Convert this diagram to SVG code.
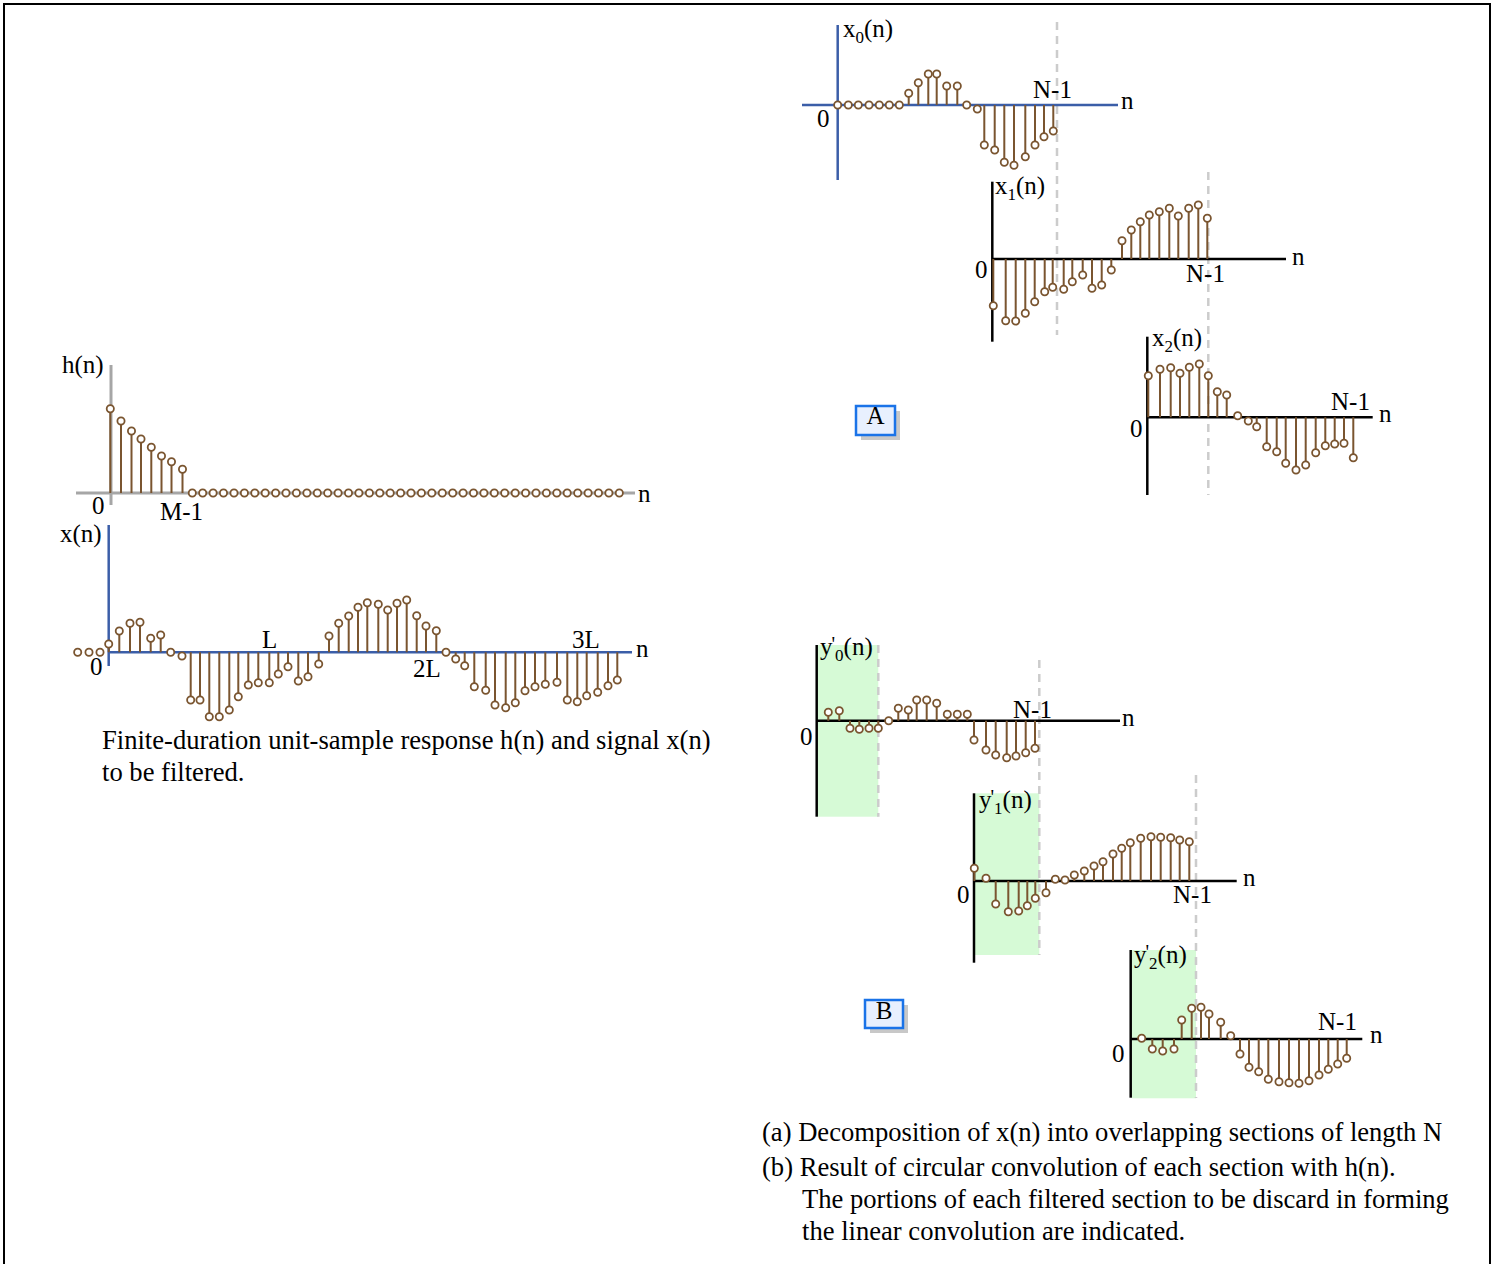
<svg xmlns="http://www.w3.org/2000/svg" xmlns:xlink="http://www.w3.org/1999/xlink" width="1497" height="1264" viewBox="0 0 1497 1264">
<style>
text{font-family:"Liberation Serif","Times New Roman",serif;fill:#000}
.lbl{font-size:25px}
.cap{font-size:26.6px}
.stem{stroke:#7a5530;stroke-width:2;fill:none}
.axg{stroke:#a6a6a6;stroke-width:3}
.axb{stroke:#3b5ea8;stroke-width:2.5}
.axk{stroke:#000;stroke-width:2.5}
.dash{stroke:#cccccc;stroke-width:2.5;stroke-dasharray:8 6}
.shade{fill:#d6fad6}
.box{fill:#e8f0fe;stroke:#1a73e8;stroke-width:2.5}
.shadow{fill:#c8c8c8}
.pr{font-size:20px}
.sb{font-size:17px}
</style>
<defs>
<circle id="o" r="3.6" fill="#fff" stroke="#7a5530" stroke-width="1.8"/>
</defs>
<rect x="4" y="4" width="1486" height="1270" fill="#fff" stroke="#000" stroke-width="2"/>

<g id="connectors"/>

<g id="plot-h">
<line class="axg" x1="111" y1="365" x2="111" y2="505"/>
<line class="axg" x1="76" y1="493" x2="635" y2="493"/>
<path class="stem" d="M110.3 493V408.7M121 493V421M131.5 493V431M141 493V439M151.3 493V447.3M161.5 493V456M171.5 493V461.7M182.5 493V469.3"/>
<g>
<use xlink:href="#o" x="110.3" y="408.7"/><use xlink:href="#o" x="121" y="421"/><use xlink:href="#o" x="131.5" y="431"/><use xlink:href="#o" x="141" y="439"/><use xlink:href="#o" x="151.3" y="447.3"/><use xlink:href="#o" x="161.5" y="456"/><use xlink:href="#o" x="171.5" y="461.7"/><use xlink:href="#o" x="182.5" y="469.3"/>
<use xlink:href="#o" x="192.3" y="493"/><use xlink:href="#o" x="202.7" y="493"/><use xlink:href="#o" x="213.1" y="493"/><use xlink:href="#o" x="223.5" y="493"/><use xlink:href="#o" x="234" y="493"/><use xlink:href="#o" x="244.4" y="493"/><use xlink:href="#o" x="254.8" y="493"/><use xlink:href="#o" x="265.2" y="493"/><use xlink:href="#o" x="275.6" y="493"/><use xlink:href="#o" x="286" y="493"/><use xlink:href="#o" x="296.4" y="493"/><use xlink:href="#o" x="306.9" y="493"/><use xlink:href="#o" x="317.3" y="493"/><use xlink:href="#o" x="327.7" y="493"/><use xlink:href="#o" x="338.1" y="493"/><use xlink:href="#o" x="348.5" y="493"/><use xlink:href="#o" x="358.9" y="493"/><use xlink:href="#o" x="369.4" y="493"/><use xlink:href="#o" x="379.8" y="493"/><use xlink:href="#o" x="390.2" y="493"/><use xlink:href="#o" x="400.6" y="493"/><use xlink:href="#o" x="411" y="493"/><use xlink:href="#o" x="421.4" y="493"/><use xlink:href="#o" x="431.8" y="493"/><use xlink:href="#o" x="442.3" y="493"/><use xlink:href="#o" x="452.7" y="493"/><use xlink:href="#o" x="463.1" y="493"/><use xlink:href="#o" x="473.5" y="493"/><use xlink:href="#o" x="483.9" y="493"/><use xlink:href="#o" x="494.3" y="493"/><use xlink:href="#o" x="504.7" y="493"/><use xlink:href="#o" x="515.2" y="493"/><use xlink:href="#o" x="525.6" y="493"/><use xlink:href="#o" x="536" y="493"/><use xlink:href="#o" x="546.4" y="493"/><use xlink:href="#o" x="556.8" y="493"/><use xlink:href="#o" x="567.2" y="493"/><use xlink:href="#o" x="577.7" y="493"/><use xlink:href="#o" x="588.1" y="493"/><use xlink:href="#o" x="598.5" y="493"/><use xlink:href="#o" x="608.9" y="493"/><use xlink:href="#o" x="619.3" y="493"/>
</g>
<text class="lbl" x="62" y="373">h(n)</text>
<text class="lbl" x="92" y="514">0</text>
<text class="lbl" x="160" y="520">M-1</text>
<text class="lbl" x="638" y="502">n</text>
</g>

<g id="plot-x">
<line class="axb" x1="108.7" y1="525" x2="108.7" y2="666"/>
<line class="axb" x1="108" y1="652.3" x2="632" y2="652.3"/>
<path class="stem" d="M108.7 652.3V644M119.3 652.3V631M130 652.3V623.3M140 652.3V622.3M150.7 652.3V638.3M160.7 652.3V635M182 652.3V656M190.7 652.3V700M200 652.3V700M209.3 652.3V716.7M219.3 652.3V716.7M229.3 652.3V710M238.3 652.3V696.7M248.3 652.3V685M258.3 652.3V682.7M269.3 652.3V682.7M278.3 652.3V674M288 652.3V666.7M298.3 652.3V681M308 652.3V676.7M318.7 652.3V664M329 652.3V636M338.7 652.3V623.3M348.7 652.3V616M358 652.3V607.3M367.3 652.3V602.7M378.3 652.3V604.3M387.7 652.3V610M397 652.3V603.3M406.7 652.3V600M416.7 652.3V615.7M426 652.3V626M436.3 652.3V630.7M455.7 652.3V659M464.7 652.3V665.7M474.3 652.3V686.7M485.7 652.3V690.3M495 652.3V705M505.7 652.3V707.7M515.3 652.3V702.7M525 652.3V690.7M535 652.3V686.7M545.3 652.3V684.3M557 652.3V682.3M567.3 652.3V700M577.3 652.3V701.7M586.7 652.3V695.7M597.7 652.3V692.3M608 652.3V685.7M617.3 652.3V680"/>
<g>
<use xlink:href="#o" x="77.7" y="652.3"/><use xlink:href="#o" x="89" y="652.3"/><use xlink:href="#o" x="100" y="652.3"/><use xlink:href="#o" x="108.7" y="644"/><use xlink:href="#o" x="119.3" y="631"/><use xlink:href="#o" x="130" y="623.3"/><use xlink:href="#o" x="140" y="622.3"/><use xlink:href="#o" x="150.7" y="638.3"/><use xlink:href="#o" x="160.7" y="635"/><use xlink:href="#o" x="170.7" y="652.3"/><use xlink:href="#o" x="182" y="656"/><use xlink:href="#o" x="190.7" y="700"/><use xlink:href="#o" x="200" y="700"/><use xlink:href="#o" x="209.3" y="716.7"/><use xlink:href="#o" x="219.3" y="716.7"/><use xlink:href="#o" x="229.3" y="710"/><use xlink:href="#o" x="238.3" y="696.7"/><use xlink:href="#o" x="248.3" y="685"/><use xlink:href="#o" x="258.3" y="682.7"/><use xlink:href="#o" x="269.3" y="682.7"/><use xlink:href="#o" x="278.3" y="674"/><use xlink:href="#o" x="288" y="666.7"/><use xlink:href="#o" x="298.3" y="681"/><use xlink:href="#o" x="308" y="676.7"/><use xlink:href="#o" x="318.7" y="664"/><use xlink:href="#o" x="329" y="636"/><use xlink:href="#o" x="338.7" y="623.3"/><use xlink:href="#o" x="348.7" y="616"/><use xlink:href="#o" x="358" y="607.3"/><use xlink:href="#o" x="367.3" y="602.7"/><use xlink:href="#o" x="378.3" y="604.3"/><use xlink:href="#o" x="387.7" y="610"/><use xlink:href="#o" x="397" y="603.3"/><use xlink:href="#o" x="406.7" y="600"/><use xlink:href="#o" x="416.7" y="615.7"/><use xlink:href="#o" x="426" y="626"/><use xlink:href="#o" x="436.3" y="630.7"/><use xlink:href="#o" x="446" y="652.3"/><use xlink:href="#o" x="455.7" y="659"/><use xlink:href="#o" x="464.7" y="665.7"/><use xlink:href="#o" x="474.3" y="686.7"/><use xlink:href="#o" x="485.7" y="690.3"/><use xlink:href="#o" x="495" y="705"/><use xlink:href="#o" x="505.7" y="707.7"/><use xlink:href="#o" x="515.3" y="702.7"/><use xlink:href="#o" x="525" y="690.7"/><use xlink:href="#o" x="535" y="686.7"/><use xlink:href="#o" x="545.3" y="684.3"/><use xlink:href="#o" x="557" y="682.3"/><use xlink:href="#o" x="567.3" y="700"/><use xlink:href="#o" x="577.3" y="701.7"/><use xlink:href="#o" x="586.7" y="695.7"/><use xlink:href="#o" x="597.7" y="692.3"/><use xlink:href="#o" x="608" y="685.7"/><use xlink:href="#o" x="617.3" y="680"/>
</g>
<text class="lbl" x="60" y="542">x(n)</text>
<text class="lbl" x="90" y="675">0</text>
<text class="lbl" x="262" y="648">L</text>
<text class="lbl" x="413" y="677">2L</text>
<text class="lbl" x="572" y="648">3L</text>
<text class="lbl" x="636" y="657">n</text>
</g>

<g id="caption-left">
<text class="cap" x="102" y="749">Finite-duration unit-sample response h(n) and signal x(n)</text>
<text class="cap" x="102" y="781">to be filtered.</text>
</g>

<g id="dashes-a">
<line class="dash" x1="1057" y1="22" x2="1057" y2="335"/>
<line class="dash" x1="1208.3" y1="172" x2="1208.3" y2="495"/>
</g>

<g id="plot-x0">
<line class="axb" x1="837.7" y1="25" x2="837.7" y2="180"/>
<line class="axb" x1="802" y1="105" x2="1118" y2="105"/>
<path class="stem" d="M908.7 105V93.3M918.3 105V82.7M928.3 105V74M936.7 105V74M946.7 105V86M957.3 105V86M977.3 105V109M984.3 105V145M994.7 105V150M1004.3 105V162.3M1014 105V165.3M1025.3 105V156.7M1035 105V145M1044 105V136.7M1053.3 105V131"/>
<g>
<use xlink:href="#o" x="837.7" y="105"/><use xlink:href="#o" x="848.3" y="105"/><use xlink:href="#o" x="858.3" y="105"/><use xlink:href="#o" x="869" y="105"/><use xlink:href="#o" x="879.3" y="105"/><use xlink:href="#o" x="889.3" y="105"/><use xlink:href="#o" x="899.3" y="105"/><use xlink:href="#o" x="908.7" y="93.3"/><use xlink:href="#o" x="918.3" y="82.7"/><use xlink:href="#o" x="928.3" y="74"/><use xlink:href="#o" x="936.7" y="74"/><use xlink:href="#o" x="946.7" y="86"/><use xlink:href="#o" x="957.3" y="86"/><use xlink:href="#o" x="966.7" y="105"/><use xlink:href="#o" x="977.3" y="109"/><use xlink:href="#o" x="984.3" y="145"/><use xlink:href="#o" x="994.7" y="150"/><use xlink:href="#o" x="1004.3" y="162.3"/><use xlink:href="#o" x="1014" y="165.3"/><use xlink:href="#o" x="1025.3" y="156.7"/><use xlink:href="#o" x="1035" y="145"/><use xlink:href="#o" x="1044" y="136.7"/><use xlink:href="#o" x="1053.3" y="131"/>
</g>
<text class="lbl" x="843" y="37">x<tspan class="sb" dy="6">0</tspan><tspan dy="-6">(n)</tspan></text>
<text class="lbl" x="817" y="127">0</text>
<text class="lbl" x="1033" y="98">N-1</text>
<text class="lbl" x="1121" y="109">n</text>
</g>

<g id="plot-x1">
<line class="axk" x1="992.3" y1="181.7" x2="992.3" y2="341.7"/>
<line class="axk" x1="992.3" y1="259" x2="1286" y2="259"/>
<path class="stem" d="M993.3 259V305.7M1005.7 259V320.7M1015.7 259V321M1025.3 259V313.3M1034.7 259V301.7M1044.7 259V291.7M1052.7 259V287.3M1063.7 259V289.3M1072.3 259V281.7M1082.7 259V275M1092 259V288.3M1101.7 259V285M1111.3 259V270M1122 259V240.7M1131.3 259V230M1140.3 259V221.7M1149.3 259V215M1159.3 259V211.7M1169.3 259V208.3M1178.3 259V216M1188.7 259V208.3M1198.3 259V205M1207.3 259V218.3"/>
<g>
<use xlink:href="#o" x="993.3" y="305.7"/><use xlink:href="#o" x="1005.7" y="320.7"/><use xlink:href="#o" x="1015.7" y="321"/><use xlink:href="#o" x="1025.3" y="313.3"/><use xlink:href="#o" x="1034.7" y="301.7"/><use xlink:href="#o" x="1044.7" y="291.7"/><use xlink:href="#o" x="1052.7" y="287.3"/><use xlink:href="#o" x="1063.7" y="289.3"/><use xlink:href="#o" x="1072.3" y="281.7"/><use xlink:href="#o" x="1082.7" y="275"/><use xlink:href="#o" x="1092" y="288.3"/><use xlink:href="#o" x="1101.7" y="285"/><use xlink:href="#o" x="1111.3" y="270"/><use xlink:href="#o" x="1122" y="240.7"/><use xlink:href="#o" x="1131.3" y="230"/><use xlink:href="#o" x="1140.3" y="221.7"/><use xlink:href="#o" x="1149.3" y="215"/><use xlink:href="#o" x="1159.3" y="211.7"/><use xlink:href="#o" x="1169.3" y="208.3"/><use xlink:href="#o" x="1178.3" y="216"/><use xlink:href="#o" x="1188.7" y="208.3"/><use xlink:href="#o" x="1198.3" y="205"/><use xlink:href="#o" x="1207.3" y="218.3"/>
</g>
<text class="lbl" x="995" y="194">x<tspan class="sb" dy="6">1</tspan><tspan dy="-6">(n)</tspan></text>
<text class="lbl" x="975" y="278">0</text>
<text class="lbl" x="1186" y="282">N-1</text>
<text class="lbl" x="1292" y="265">n</text>
</g>

<g id="plot-x2">
<line class="axk" x1="1147.3" y1="336.7" x2="1147.3" y2="495"/>
<line class="axk" x1="1147.3" y1="417.3" x2="1372.7" y2="417.3"/>
<path class="stem" d="M1148.3 417.3V375.7M1160 417.3V369.3M1170.7 417.3V367.7M1180 417.3V373.3M1189.3 417.3V367.3M1199.3 417.3V364M1208.3 417.3V375.7M1217.3 417.3V391.7M1226.7 417.3V395M1237.7 417.3V415.7M1248.3 417.3V421M1256.7 417.3V426.7M1266.7 417.3V446.7M1276.7 417.3V451.7M1285.7 417.3V463.3M1296 417.3V470M1305.7 417.3V465M1315.7 417.3V452.7M1325.3 417.3V445.7M1334.7 417.3V444M1344 417.3V443.3M1353.3 417.3V457.7"/>
<g>
<use xlink:href="#o" x="1148.3" y="375.7"/><use xlink:href="#o" x="1160" y="369.3"/><use xlink:href="#o" x="1170.7" y="367.7"/><use xlink:href="#o" x="1180" y="373.3"/><use xlink:href="#o" x="1189.3" y="367.3"/><use xlink:href="#o" x="1199.3" y="364"/><use xlink:href="#o" x="1208.3" y="375.7"/><use xlink:href="#o" x="1217.3" y="391.7"/><use xlink:href="#o" x="1226.7" y="395"/><use xlink:href="#o" x="1237.7" y="415.7"/><use xlink:href="#o" x="1248.3" y="421"/><use xlink:href="#o" x="1256.7" y="426.7"/><use xlink:href="#o" x="1266.7" y="446.7"/><use xlink:href="#o" x="1276.7" y="451.7"/><use xlink:href="#o" x="1285.7" y="463.3"/><use xlink:href="#o" x="1296" y="470"/><use xlink:href="#o" x="1305.7" y="465"/><use xlink:href="#o" x="1315.7" y="452.7"/><use xlink:href="#o" x="1325.3" y="445.7"/><use xlink:href="#o" x="1334.7" y="444"/><use xlink:href="#o" x="1344" y="443.3"/><use xlink:href="#o" x="1353.3" y="457.7"/>
</g>
<text class="lbl" x="1152" y="346">x<tspan class="sb" dy="6">2</tspan><tspan dy="-6">(n)</tspan></text>
<text class="lbl" x="1130" y="437">0</text>
<text class="lbl" x="1331" y="410">N-1</text>
<text class="lbl" x="1379" y="422">n</text>
</g>

<g id="label-A">
<rect class="shadow" x="861" y="411" width="39" height="29"/>
<rect class="box" x="856" y="406" width="39" height="29"/>
<text class="lbl" x="875.5" y="424" text-anchor="middle">A</text>
</g>

<g id="shades">
<rect class="shade" x="818" y="645" width="60.3" height="171.7"/>
<rect class="shade" x="975" y="793.3" width="64.3" height="161.7"/>
<rect class="shade" x="1131.7" y="950" width="64.3" height="148.3"/>
</g>

<g id="dashes-b">
<line class="dash" x1="878.3" y1="645" x2="878.3" y2="816.7"/>
<line class="dash" x1="1039.3" y1="660" x2="1039.3" y2="955"/>
<line class="dash" x1="1196" y1="775" x2="1196" y2="1098"/>
</g>

<g id="plot-y0">
<line class="axk" x1="816.7" y1="645" x2="816.7" y2="816.7"/>
<line class="axk" x1="816.7" y1="720.7" x2="1120" y2="720.7"/>
<path class="stem" d="M828.3 720.7V712.3M839.3 720.7V710.7M850 720.7V728.3M859.3 720.7V729.3M869 720.7V728.3M878.3 720.7V728.3M898.3 720.7V708.3M908.3 720.7V710M916.7 720.7V700M926.7 720.7V700M936.7 720.7V703.3M947.3 720.7V714.3M957.3 720.7V714.3M967.3 720.7V714.3M974 720.7V740M986 720.7V750M995.7 720.7V755M1006.7 720.7V757.7M1016 720.7V756M1025.7 720.7V752.7M1035 720.7V748.3"/>
<g>
<use xlink:href="#o" x="828.3" y="712.3"/><use xlink:href="#o" x="839.3" y="710.7"/><use xlink:href="#o" x="850" y="728.3"/><use xlink:href="#o" x="859.3" y="729.3"/><use xlink:href="#o" x="869" y="728.3"/><use xlink:href="#o" x="878.3" y="728.3"/><use xlink:href="#o" x="888.7" y="720.7"/><use xlink:href="#o" x="898.3" y="708.3"/><use xlink:href="#o" x="908.3" y="710"/><use xlink:href="#o" x="916.7" y="700"/><use xlink:href="#o" x="926.7" y="700"/><use xlink:href="#o" x="936.7" y="703.3"/><use xlink:href="#o" x="947.3" y="714.3"/><use xlink:href="#o" x="957.3" y="714.3"/><use xlink:href="#o" x="967.3" y="714.3"/><use xlink:href="#o" x="974" y="740"/><use xlink:href="#o" x="986" y="750"/><use xlink:href="#o" x="995.7" y="755"/><use xlink:href="#o" x="1006.7" y="757.7"/><use xlink:href="#o" x="1016" y="756"/><use xlink:href="#o" x="1025.7" y="752.7"/><use xlink:href="#o" x="1035" y="748.3"/>
</g>
<text class="lbl" x="820" y="655">y<tspan class="pr" dx="-1" dy="-4">'</tspan><tspan class="sb" dy="10">0</tspan><tspan dy="-6">(n)</tspan></text>
<text class="lbl" x="800" y="745">0</text>
<text class="lbl" x="1013" y="718">N-1</text>
<text class="lbl" x="1122" y="726">n</text>
</g>

<g id="plot-y1">
<line class="axk" x1="974" y1="793.3" x2="974" y2="962.7"/>
<line class="axk" x1="974" y1="881" x2="1236.7" y2="881"/>
<path class="stem" d="M974.3 881V868.3M986 881V878.3M995.7 881V904M1008.3 881V911.7M1018.7 881V911M1027.3 881V905.7M1035.3 881V898.3M1046 881V892.7M1055.3 881V879.3M1065 881V880M1074.3 881V875M1084.3 881V871M1094 881V866M1103 881V861.7M1113 881V854M1121.7 881V848.3M1130.3 881V842.7M1140.7 881V838.3M1151 881V836.7M1160.7 881V837.3M1170.7 881V837.7M1179.7 881V840M1189.3 881V841.7"/>
<g>
<use xlink:href="#o" x="974.3" y="868.3"/><use xlink:href="#o" x="986" y="878.3"/><use xlink:href="#o" x="995.7" y="904"/><use xlink:href="#o" x="1008.3" y="911.7"/><use xlink:href="#o" x="1018.7" y="911"/><use xlink:href="#o" x="1027.3" y="905.7"/><use xlink:href="#o" x="1035.3" y="898.3"/><use xlink:href="#o" x="1046" y="892.7"/><use xlink:href="#o" x="1055.3" y="879.3"/><use xlink:href="#o" x="1065" y="880"/><use xlink:href="#o" x="1074.3" y="875"/><use xlink:href="#o" x="1084.3" y="871"/><use xlink:href="#o" x="1094" y="866"/><use xlink:href="#o" x="1103" y="861.7"/><use xlink:href="#o" x="1113" y="854"/><use xlink:href="#o" x="1121.7" y="848.3"/><use xlink:href="#o" x="1130.3" y="842.7"/><use xlink:href="#o" x="1140.7" y="838.3"/><use xlink:href="#o" x="1151" y="836.7"/><use xlink:href="#o" x="1160.7" y="837.3"/><use xlink:href="#o" x="1170.7" y="837.7"/><use xlink:href="#o" x="1179.7" y="840"/><use xlink:href="#o" x="1189.3" y="841.7"/>
</g>
<text class="lbl" x="979" y="808">y<tspan class="pr" dx="-1" dy="-4">'</tspan><tspan class="sb" dy="10">1</tspan><tspan dy="-6">(n)</tspan></text>
<text class="lbl" x="957" y="903">0</text>
<text class="lbl" x="1173" y="903">N-1</text>
<text class="lbl" x="1243" y="886">n</text>
</g>

<g id="plot-y2">
<line class="axk" x1="1130.7" y1="950" x2="1130.7" y2="1097.7"/>
<line class="axk" x1="1130.7" y1="1039" x2="1362.3" y2="1039"/>
<path class="stem" d="M1152.3 1039V1049M1162.7 1039V1051M1174 1039V1049M1181.7 1039V1020M1191.7 1039V1008.3M1201 1039V1007.3M1209 1039V1014M1220.7 1039V1022.3M1230.7 1039V1035.7M1240 1039V1054M1249 1039V1067.3M1258.7 1039V1071.7M1268.3 1039V1079.3M1279 1039V1081.7M1289 1039V1082.7M1299 1039V1083.3M1309 1039V1080.7M1319 1039V1075M1328.3 1039V1069.3M1337.7 1039V1064M1346.7 1039V1058.3"/>
<g>
<use xlink:href="#o" x="1141.7" y="1038.3"/><use xlink:href="#o" x="1152.3" y="1049"/><use xlink:href="#o" x="1162.7" y="1051"/><use xlink:href="#o" x="1174" y="1049"/><use xlink:href="#o" x="1181.7" y="1020"/><use xlink:href="#o" x="1191.7" y="1008.3"/><use xlink:href="#o" x="1201" y="1007.3"/><use xlink:href="#o" x="1209" y="1014"/><use xlink:href="#o" x="1220.7" y="1022.3"/><use xlink:href="#o" x="1230.7" y="1035.7"/><use xlink:href="#o" x="1240" y="1054"/><use xlink:href="#o" x="1249" y="1067.3"/><use xlink:href="#o" x="1258.7" y="1071.7"/><use xlink:href="#o" x="1268.3" y="1079.3"/><use xlink:href="#o" x="1279" y="1081.7"/><use xlink:href="#o" x="1289" y="1082.7"/><use xlink:href="#o" x="1299" y="1083.3"/><use xlink:href="#o" x="1309" y="1080.7"/><use xlink:href="#o" x="1319" y="1075"/><use xlink:href="#o" x="1328.3" y="1069.3"/><use xlink:href="#o" x="1337.7" y="1064"/><use xlink:href="#o" x="1346.7" y="1058.3"/>
</g>
<text class="lbl" x="1134" y="963">y<tspan class="pr" dx="-1" dy="-4">'</tspan><tspan class="sb" dy="10">2</tspan><tspan dy="-6">(n)</tspan></text>
<text class="lbl" x="1112" y="1062">0</text>
<text class="lbl" x="1318" y="1030">N-1</text>
<text class="lbl" x="1370" y="1043">n</text>
</g>

<g id="label-B">
<rect class="shadow" x="870" y="1005" width="38" height="28"/>
<rect class="box" x="865" y="1000" width="38" height="28"/>
<text class="lbl" x="884" y="1019" text-anchor="middle">B</text>
</g>

<g id="caption-right">
<text class="cap" x="762" y="1141">(a) Decomposition of x(n) into overlapping sections of length N</text>
<text class="cap" x="762" y="1176">(b) Result of circular convolution of each section with h(n).</text>
<text class="cap" x="802" y="1208">The portions of each filtered section to be discard in forming</text>
<text class="cap" x="802" y="1240">the linear convolution are indicated.</text>
</g>
</svg>
